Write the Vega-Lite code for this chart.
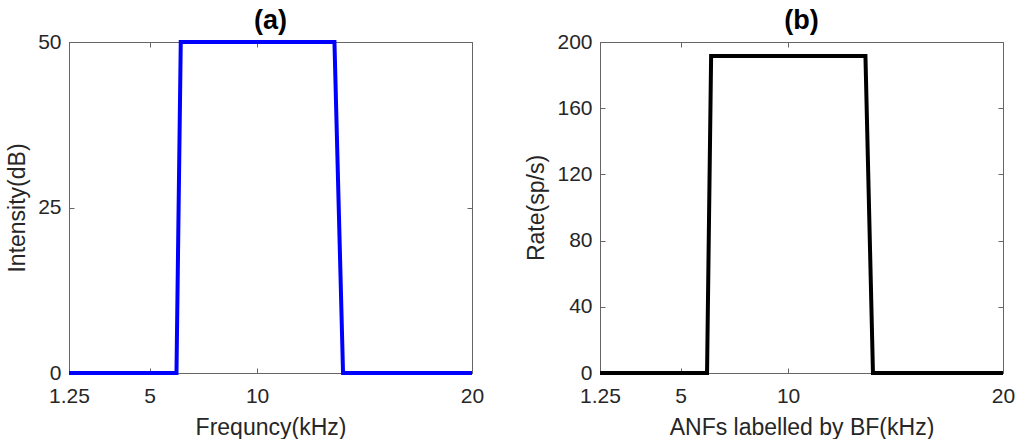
{
  "$schema": "https://vega.github.io/schema/vega-lite/v6.json",
  "padding": {"left": 6, "top": 6, "right": 14, "bottom": 4},
  "spacing": 128,
  "bounds": "flush",
  "config": {
    "font": "Liberation Sans",
    "view": {"stroke": "#666666", "strokeWidth": 1},
    "axis": {
      "grid": false,
      "domainColor": "#666666",
      "tickColor": "#666666",
      "tickSize": -5,
      "labelFont": "Liberation Sans",
      "labelFontSize": 21,
      "labelColor": "#262626",
      "titleFont": "Liberation Sans",
      "titleFontSize": 23,
      "titleFontWeight": "normal",
      "titleColor": "#262626"
    },
    "title": {"font": "Liberation Sans", "fontSize": 27, "fontWeight": "bold", "color": "#000000", "anchor": "middle", "offset": -4}
  },
  "hconcat": [
    {
      "width": 403,
      "height": 331,
      "title": {"text": "(a)"},
      "data": {"values": [
        {"x": 1.25, "y": 0},
        {"x": 6.25, "y": 0},
        {"x": 6.45, "y": 50},
        {"x": 13.6, "y": 50},
        {"x": 14.0, "y": 0},
        {"x": 20, "y": 0}
      ]},
      "layer": [
        {
          "mark": {"type": "line", "color": "#0000ff", "strokeWidth": 4, "strokeJoin": "miter"},
          "encoding": {
            "x": {"field": "x", "type": "quantitative", "scale": {"domain": [1.25, 20], "nice": false, "zero": false},
              "axis": {"orient": "bottom", "values": [1.25, 5, 10, 20], "labelExpr": "'' + datum.value", "title": "Frequncy(kHz)", "labelPadding": 17, "titlePadding": 10, "labelFlush": false}},
            "y": {"field": "y", "type": "quantitative", "scale": {"domain": [0, 50], "nice": false},
              "axis": {"orient": "left", "values": [0, 25, 50], "title": "Intensity(dB)", "labelPadding": 13, "titlePadding": 8}}
          }
        },
        {
          "mark": {"type": "line", "strokeOpacity": 0},
          "encoding": {
            "x": {"field": "x", "type": "quantitative", "axis": {"orient": "top", "values": [1.25, 5, 10, 20], "labels": false, "title": null}},
            "y": {"field": "y", "type": "quantitative", "axis": {"orient": "right", "values": [0, 25, 50], "labels": false, "title": null}}
          }
        }
      ],
      "resolve": {"axis": {"x": "independent", "y": "independent"}}
    },
    {
      "width": 403,
      "height": 331,
      "title": {"text": "(b)"},
      "data": {"values": [
        {"x": 1.25, "y": 0},
        {"x": 6.23, "y": 0},
        {"x": 6.42, "y": 191.5},
        {"x": 13.6, "y": 191.5},
        {"x": 13.95, "y": 0},
        {"x": 20, "y": 0}
      ]},
      "layer": [
        {
          "mark": {"type": "line", "color": "#000000", "strokeWidth": 4, "strokeJoin": "miter"},
          "encoding": {
            "x": {"field": "x", "type": "quantitative", "scale": {"domain": [1.25, 20], "nice": false, "zero": false},
              "axis": {"orient": "bottom", "values": [1.25, 5, 10, 20], "labelExpr": "'' + datum.value", "title": "ANFs labelled by BF(kHz)", "labelPadding": 17, "titlePadding": 10, "labelFlush": false}},
            "y": {"field": "y", "type": "quantitative", "scale": {"domain": [0, 200], "nice": false},
              "axis": {"orient": "left", "values": [0, 40, 80, 120, 160, 200], "title": "Rate(sp/s)", "labelPadding": 13, "titlePadding": 8}}
          }
        },
        {
          "mark": {"type": "line", "strokeOpacity": 0},
          "encoding": {
            "x": {"field": "x", "type": "quantitative", "axis": {"orient": "top", "values": [1.25, 5, 10, 20], "labels": false, "title": null}},
            "y": {"field": "y", "type": "quantitative", "axis": {"orient": "right", "values": [0, 40, 80, 120, 160, 200], "labels": false, "title": null}}
          }
        }
      ],
      "resolve": {"axis": {"x": "independent", "y": "independent"}}
    }
  ]
}
